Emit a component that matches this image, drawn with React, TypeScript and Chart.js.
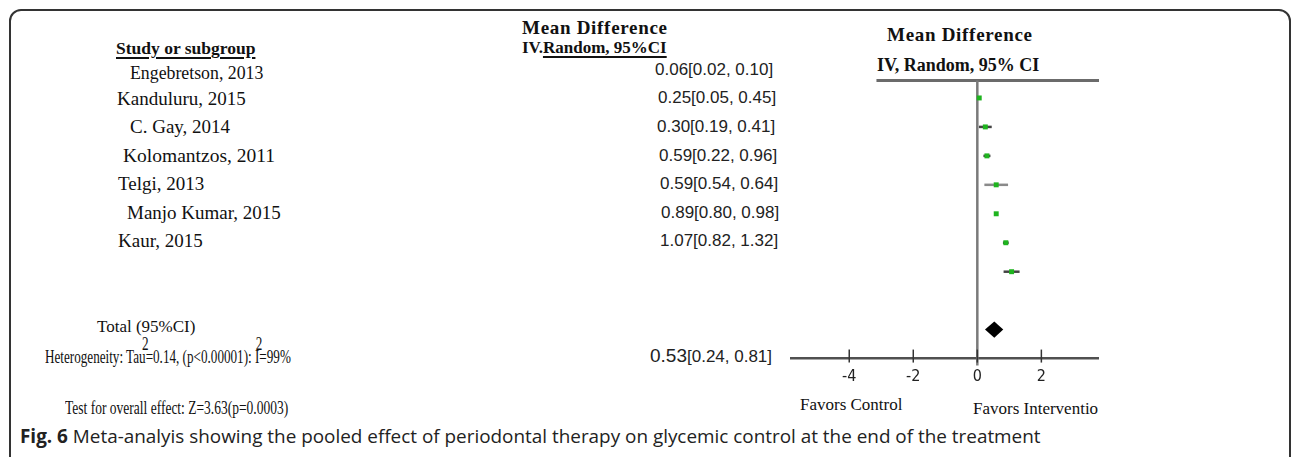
import React, { useEffect, useRef } from "react";
import { Chart, registerables } from "chart.js";

Chart.register(...registerables);

// ---- data ----
const studies = [
  "Engebretson, 2013",
  "Kanduluru, 2015",
  "C. Gay, 2014",
  "Kolomantzos, 2011",
  "Telgi, 2013",
  "Manjo Kumar, 2015",
  "Kaur, 2015",
];
const meanDiff = [0.06, 0.25, 0.3, 0.59, 0.59, 0.89, 1.07];
const ciLow = [0.02, 0.05, 0.19, 0.22, 0.54, 0.8, 0.82];
const ciHigh = [0.1, 0.45, 0.41, 0.96, 0.64, 0.98, 1.32];
const totalMean = 0.53;
const totalLow = 0.24;
const totalHigh = 0.81;
const tickValues = [-4, -2, 0, 2];

// ---- layout (HTML text) ----
const nameX = [130, 117, 130, 123, 118, 127, 118];
const nameY = [73, 99, 127, 156, 184, 213, 241];
const nameSize = [17.8, 19, 19, 19.5, 19, 19, 19];
const valueX = [655, 658, 657, 659, 660, 661, 660];
const valueY = [70, 98, 127, 156, 184, 213, 241];

const SERIF = "'Liberation Serif', 'Times New Roman', serif";
const SANS = "'Liberation Sans', Arial, sans-serif";
const CAPTION = "'Open Sans', 'Noto Sans', sans-serif";

const fmt = (v: number) => v.toFixed(2);

const TOTAL_ROW = 8;
const AXIS_ROW = 9;
const TOP_ROW = -0.6;

const forestPlugin = {
  id: "forest",
  beforeDatasetsDraw(chart: any) {
    const { ctx, scales } = chart;
    const xs = scales.x;
    const ys = scales.y;
    ctx.save();
    // top line
    ctx.strokeStyle = "#6b6b6b";
    ctx.lineWidth = 3;
    ctx.beginPath();
    ctx.moveTo(xs.getPixelForValue(-3.15), ys.getPixelForValue(TOP_ROW));
    ctx.lineTo(xs.getPixelForValue(3.8), ys.getPixelForValue(TOP_ROW));
    ctx.stroke();
    // zero line
    ctx.strokeStyle = "#7a7a7a";
    ctx.lineWidth = 2.5;
    ctx.beginPath();
    ctx.moveTo(xs.getPixelForValue(0), ys.getPixelForValue(TOP_ROW));
    ctx.lineTo(xs.getPixelForValue(0), ys.getPixelForValue(AXIS_ROW) + 7);
    ctx.stroke();
    // axis ticks
    ctx.strokeStyle = "#333";
    ctx.lineWidth = 1.5;
    const ay = ys.getPixelForValue(AXIS_ROW);
    tickValues.forEach((v) => {
      const px = xs.getPixelForValue(v);
      ctx.beginPath();
      ctx.moveTo(px, ay - 9);
      ctx.lineTo(px, ay + 4);
      ctx.stroke();
    });
    // CI bars
    meanDiff.forEach((_, i) => {
      const y = ys.getPixelForValue(i);
      ctx.strokeStyle = i === 3 ? "#8a8a8a" : "#444";
      ctx.lineWidth = 2.5;
      ctx.beginPath();
      ctx.moveTo(xs.getPixelForValue(ciLow[i]), y);
      ctx.lineTo(xs.getPixelForValue(ciHigh[i]), y);
      ctx.stroke();
    });
    ctx.restore();
  },
  afterDatasetsDraw(chart: any) {
    const { ctx, scales } = chart;
    const xs = scales.x;
    const ys = scales.y;
    ctx.save();
    ctx.fillStyle = "#000";
    ctx.beginPath();
    ctx.moveTo(xs.getPixelForValue(totalLow), ys.getPixelForValue(TOTAL_ROW));
    ctx.lineTo(xs.getPixelForValue(totalMean), ys.getPixelForValue(TOTAL_ROW - 0.28));
    ctx.lineTo(xs.getPixelForValue(totalHigh), ys.getPixelForValue(TOTAL_ROW));
    ctx.lineTo(xs.getPixelForValue(totalMean), ys.getPixelForValue(TOTAL_ROW + 0.28));
    ctx.closePath();
    ctx.fill();
    ctx.restore();
  },
};

function ForestChart() {
  const ref = useRef<HTMLCanvasElement | null>(null);
  useEffect(() => {
    if (!ref.current) return;
    const chart = new Chart(ref.current, {
      type: "scatter",
      data: {
        datasets: [
          {
            data: meanDiff.map((m, i) => ({ x: m, y: i })),
            pointStyle: "rect",
            pointRadius: 3.5,
            pointHoverRadius: 3.5,
            backgroundColor: "#1fb41f",
            borderColor: "#1fb41f",
            borderWidth: 0,
          },
        ],
      },
      options: {
        animation: false,
        responsive: false,
        maintainAspectRatio: false,
        layout: { padding: 0, autoPadding: false },
        plugins: { legend: { display: false }, tooltip: { enabled: false } },
        scales: {
          x: {
            type: "linear",
            min: -5.85,
            max: 3.8,
            position: { y: AXIS_ROW } as any,
            afterBuildTicks: (s: any) => {
              s.ticks = tickValues.map((v) => ({ value: v }));
            },
            grid: { display: false },
            border: { display: true, color: "#505050", width: 2.5 },
            ticks: {
              color: "#222",
              padding: 1,
              font: { family: "'DejaVu Sans Condensed', 'DejaVu Sans', sans-serif", size: 16 },
              callback: (v: any) => String(v),
            },
          },
          y: { type: "linear", min: -1, max: 10.5, reverse: true, display: false },
        },
      },
      plugins: [forestPlugin],
    });
    return () => chart.destroy();
  }, []);
  return (
    <canvas
      ref={ref}
      width={309}
      height={333}
      style={{ position: "absolute", left: 790, top: 69, width: 309, height: 333 }}
    />
  );
}

const txt = (x: number, y: number, extra: React.CSSProperties = {}): React.CSSProperties => ({
  position: "absolute",
  left: x,
  top: y - 12,
  lineHeight: "24px",
  whiteSpace: "nowrap",
  fontFamily: SERIF,
  fontSize: 19,
  color: "#111",
  ...extra,
});

const sup = (
  <span style={{ display: "inline-block", width: 0, position: "relative", top: -13, left: -5 }}>2</span>
);

const underline: React.CSSProperties = {
  textDecoration: "underline",
  textDecorationThickness: "2px",
  textUnderlineOffset: "3px",
};

export default function App() {
  return (
    <div
      style={{
        position: "fixed",
        left: 0,
        top: 0,
        width: 1292,
        height: 457,
        background: "#fff",
        overflow: "hidden",
      }}
    >
      <div
        style={{
          position: "absolute",
          left: 9,
          top: 9,
          width: 1282,
          height: 480,
          boxSizing: "border-box",
          border: "2px solid #333",
          borderRadius: 12,
        }}
      />
      {/* left headers */}
      <div style={txt(116, 48, { fontWeight: "bold", fontSize: 17.5, ...underline })}>Study or subgroup</div>
      <div style={txt(522, 28, { fontWeight: "bold", letterSpacing: 0.7 })}>Mean Difference</div>
      <div style={txt(522, 48, { fontWeight: "bold", fontSize: 17 })}>
        IV.<span style={underline}>Random, 95%CI</span>
      </div>
      {/* right headers */}
      <div style={txt(887, 35, { fontWeight: "bold", letterSpacing: 0.7 })}>Mean Difference</div>
      <div style={txt(877, 65, { fontWeight: "bold", fontSize: 18 })}>IV, Random, 95% CI</div>

      {studies.map((s, i) => (
        <div key={s} style={txt(nameX[i], nameY[i], { fontSize: nameSize[i] })}>
          {s}
        </div>
      ))}
      {meanDiff.map((m, i) => (
        <div key={i} style={txt(valueX[i], valueY[i], { fontFamily: SANS, fontSize: 17, color: "#222" })}>
          {`${fmt(m)}[${fmt(ciLow[i])}, ${fmt(ciHigh[i])}]`}
        </div>
      ))}

      <div style={txt(97, 327, { fontSize: 17 })}>Total (95%CI)</div>
      <div style={txt(650, 356, { fontFamily: SANS, fontSize: 17, color: "#222" })}>
        <span style={{ fontSize: 19 }}>{fmt(totalMean)}</span>
        {`[${fmt(totalLow)}, ${fmt(totalHigh)}]`}
      </div>
      <div style={txt(45, 357, { fontSize: 18, transform: "scaleX(0.73)", transformOrigin: "left center" })}>
        Heterogeneity: Tau{sup}=0.14, (p&lt;0.00001): I{sup}=99%
      </div>
      <div style={txt(65, 408, { fontSize: 18, transform: "scaleX(0.75)", transformOrigin: "left center" })}>
        Test for overall effect: Z=3.63(p=0.0003)
      </div>

      <div style={txt(800, 405, { fontSize: 17 })}>Favors Control</div>
      <div style={txt(973, 409, { fontSize: 17 })}>Favors Interventio</div>

      <div style={txt(20, 436, { fontFamily: CAPTION, fontSize: 18.9, color: "#222" })}>
        <b>Fig. 6</b> Meta-analyis showing the pooled effect of periodontal therapy on glycemic control at the end of the
        treatment
      </div>

      <ForestChart />
    </div>
  );
}
